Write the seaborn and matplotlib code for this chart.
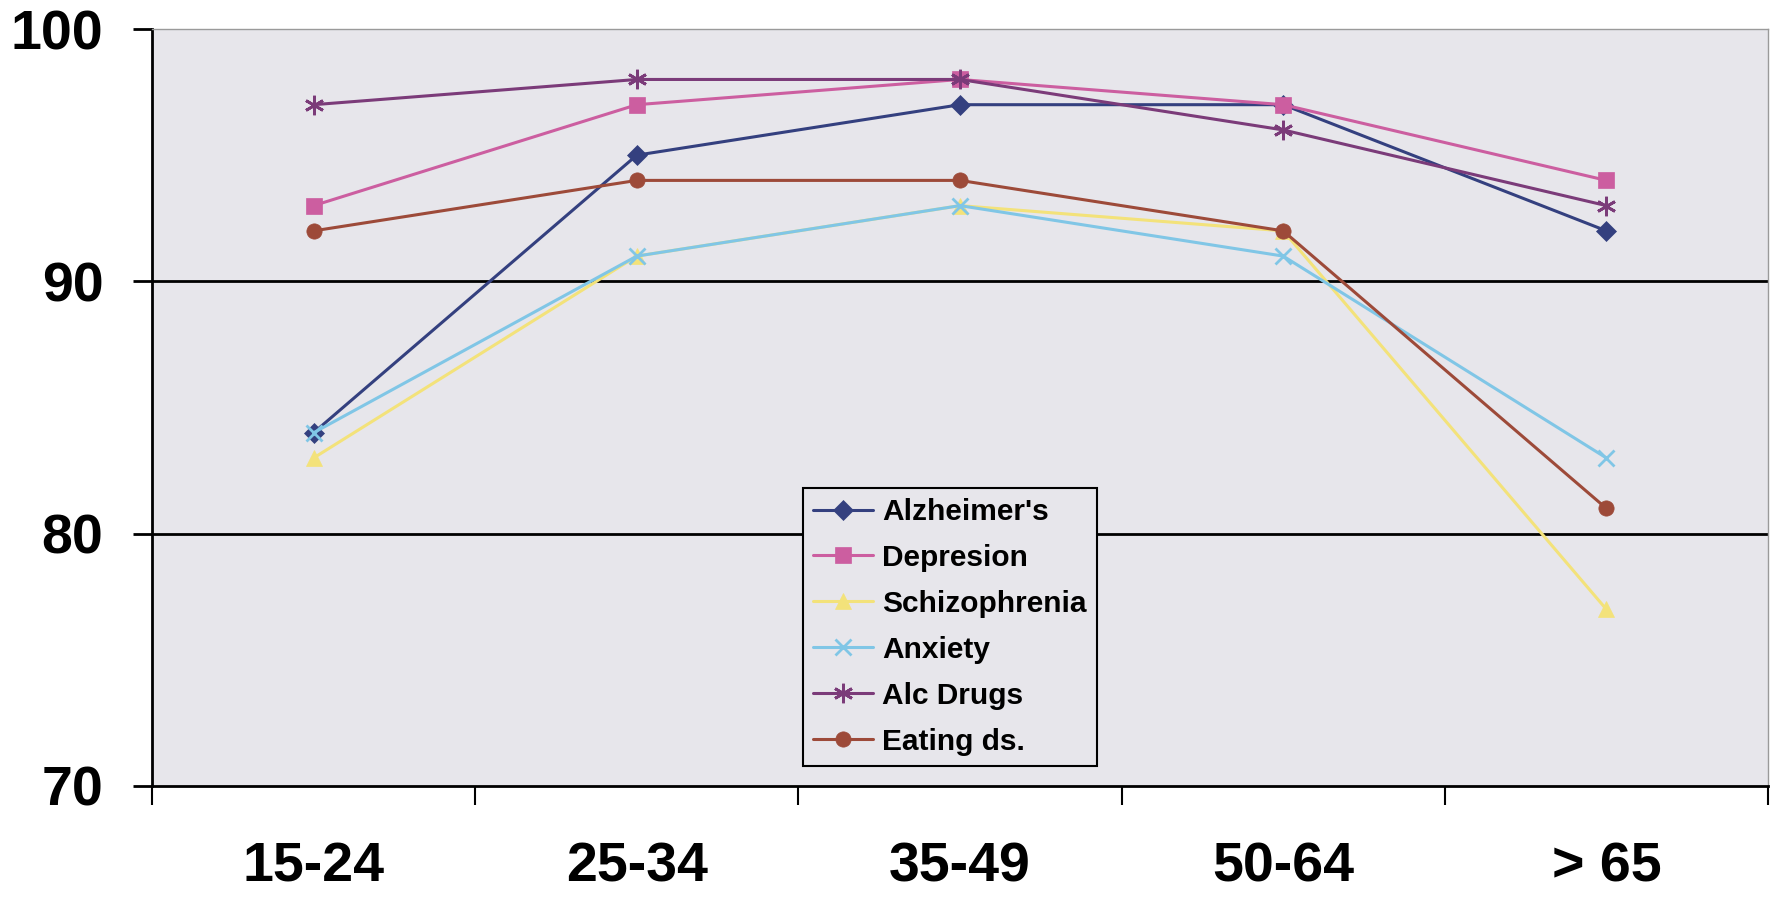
import matplotlib
matplotlib.use("Agg")
import matplotlib.pyplot as plt
import seaborn as sns
import numpy as np
from matplotlib.ticker import FixedLocator

age_groups = ["15-24", "25-34", "35-49", "50-64", "> 65"]

alzheimers = [84, 95, 97, 97, 92]
depresion = [93, 97, 98, 97, 94]
schizophrenia = [83, 91, 93, 92, 77]
anxiety = [84, 91, 93, 91, 83]
alc_drugs = [97, 98, 98, 96, 93]
eating_ds = [92, 94, 94, 92, 81]

series = [
    ("Alzheimer's", alzheimers, "#34407f", "D", 10),
    ("Depresion", depresion, "#cc5ea0", "s", 11),
    ("Schizophrenia", schizophrenia, "#f3e27a", "^", 11),
    ("Anxiety", anxiety, "#80c6e6", "x", 12),
    ("Alc Drugs", alc_drugs, "#7b3b79", (6, 2, 0), 14),
    ("Eating ds.", eating_ds, "#9d4a39", "o", 11),
]

sns.set_style("white")
plt.rcParams["font.family"] = ["Liberation Sans", "DejaVu Sans"]
plt.rcParams["text.color"] = "black"
plt.rcParams["xtick.color"] = "black"
plt.rcParams["ytick.color"] = "black"

fig = plt.figure(figsize=(17.72, 8.99), dpi=100)
ax = fig.add_axes([152 / 1772, 1 - 786 / 899, (1768 - 152) / 1772, (786 - 29) / 899])
ax.set_facecolor("#e7e6eb")

x = np.arange(len(age_groups))
for name, vals, color, marker, ms in series:
    sns.lineplot(x=x, y=vals, ax=ax, color=color, marker=marker, markersize=ms,
                 markeredgecolor=color, markeredgewidth=2 if marker in ("x", (6, 2, 0)) else 0.5,
                 linewidth=2.2, label=name)

ax.set_xlim(-0.5, len(age_groups) - 0.5)
ax.set_ylim(70, 100)
ax.set_yticks([70, 80, 90, 100])
ax.set_yticklabels(["70", "80", "90", "100"])
ax.set_xticks(x)
ax.set_xticklabels(age_groups)
ax.xaxis.set_minor_locator(FixedLocator(np.arange(-0.5, len(age_groups), 1.0)))

for v in [80, 90]:
    ax.axhline(v, color="black", linewidth=2, zorder=1)

ax.tick_params(axis="y", which="major", length=14, width=2, direction="out",
               pad=21, labelsize=40, color="black", left=True)
ax.tick_params(axis="x", which="major", length=0, pad=40, labelsize=40, bottom=True)
ax.tick_params(axis="x", which="minor", length=14, width=1.5, direction="out",
               bottom=True, color="black")
for lab in ax.get_xticklabels() + ax.get_yticklabels():
    lab.set_fontweight("bold")
    lab.set_color("black")

ax.spines["left"].set_color("black")
ax.spines["left"].set_linewidth(2)
ax.spines["bottom"].set_color("black")
ax.spines["bottom"].set_linewidth(2)
ax.spines["top"].set_color("#9a9a9a")
ax.spines["top"].set_linewidth(1)
ax.spines["right"].set_color("#9a9a9a")
ax.spines["right"].set_linewidth(1)

ax.set_xlabel("")
ax.set_ylabel("")

leg = ax.legend(loc="lower left", bbox_to_anchor=((803 - 152) / 1616, (786 - 766) / 757),
                frameon=True, fancybox=False, framealpha=1, edgecolor="black",
                facecolor="#e7e6eb", prop={"weight": "bold", "size": 21.5},
                handlelength=2.0, handletextpad=0.3, labelspacing=0.6,
                borderpad=0.35, borderaxespad=0)
leg.get_frame().set_linewidth(1.5)
for t in leg.get_texts():
    t.set_color("black")

fig.savefig("out.png", dpi=100, facecolor="white")
